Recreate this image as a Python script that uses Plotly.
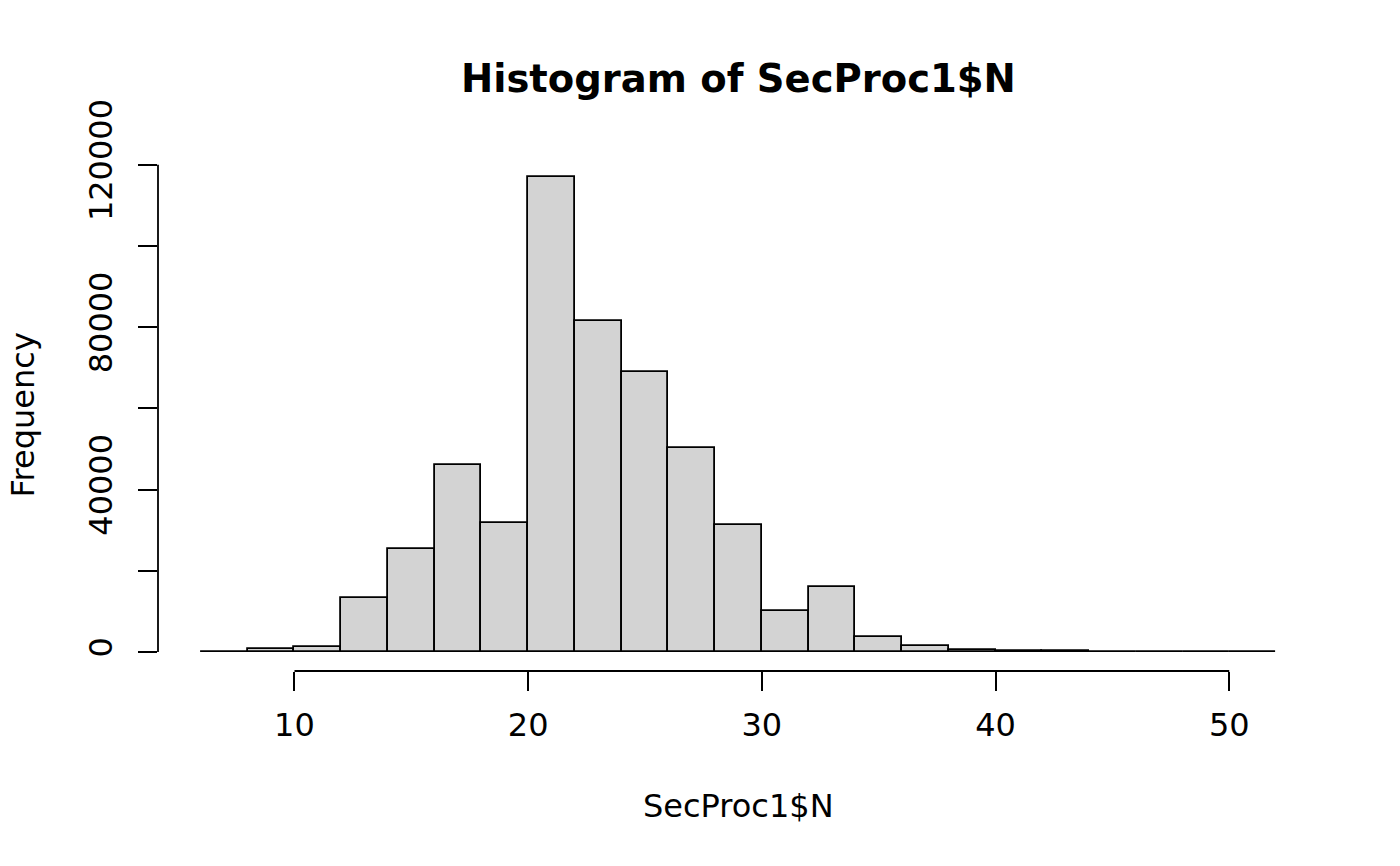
import plotly.graph_objects as go

# Histogram data (bin edges, counts)
bin_edges = [6, 8, 10, 12, 14, 16, 18, 20, 22, 24, 26, 28, 30, 32, 34, 36, 38, 40, 42, 44, 46, 48, 50, 52]
counts = [100, 800, 1200, 13400, 25400, 46100, 31800, 117000, 81600, 69000, 50300, 31300,
          10000, 15900, 3600, 1500, 500, 300, 150, 60, 40, 20, 20]

x_ticks = [10, 20, 30, 40, 50]
y_ticks = [0, 20000, 40000, 60000, 80000, 100000, 120000]
y_tick_text = ["0", "", "40000", "", "80000", "", "120000"]

title_text = "Histogram of SecProc1$N"
x_title = "SecProc1$N"
y_title = "Frequency"

centers = [(a + b) / 2 for a, b in zip(bin_edges[:-1], bin_edges[1:])]
widths = [b - a for a, b in zip(bin_edges[:-1], bin_edges[1:])]

# R-style 4% axis extension
xr = bin_edges[-1] - bin_edges[0]
x_range = [bin_edges[0] - 0.04 * xr, bin_edges[-1] + 0.04 * xr]
ymax = max(counts)
y_range = [-0.04 * ymax, ymax * 1.04]

FONT = "DejaVu Sans"
fs = 32

fig = go.Figure()
fig.add_trace(go.Bar(
    x=centers, y=counts, width=widths,
    marker=dict(color="#D3D3D3", line=dict(color="black", width=1.8)),
    showlegend=False, hoverinfo="x+y",
))

# body has an 8px default margin in the page, compensate in the margins
fig.update_layout(
    width=1400, height=866, autosize=False,
    paper_bgcolor="white", plot_bgcolor="white",
    margin=dict(l=150, r=89, t=150, b=203, pad=0),
    font=dict(family=FONT, size=fs, color="black"),
    bargap=0,
    xaxis=dict(
        range=x_range, tickmode="array", tickvals=x_ticks,
        ticktext=[str(v) for v in x_ticks], automargin=False,
        ticks="outside", ticklen=19, tickwidth=1.8, tickcolor="black",
        showline=False, showgrid=False, zeroline=False,
        tickfont=dict(family=FONT, size=fs, color="black"),
        ticklabelstandoff=7,
    ),
    yaxis=dict(
        range=y_range, tickmode="array", tickvals=y_ticks, ticktext=y_tick_text,
        automargin=False,
        ticks="outside", ticklen=19, tickwidth=1.8, tickcolor="black",
        showline=False, showgrid=False, zeroline=False,
        tickangle=-90,
        tickfont=dict(family=FONT, size=fs, color="black"),
        ticklabelstandoff=13,
    ),
)

# R-style axis lines spanning first to last tick
fig.add_shape(type="line", xref="x", yref="paper", x0=x_ticks[0], x1=x_ticks[-1], y0=0, y1=0,
              line=dict(color="black", width=1.8))
fig.add_shape(type="line", xref="paper", yref="y", x0=0, x1=0, y0=y_ticks[0], y1=y_ticks[-1],
              line=dict(color="black", width=1.8))

# Titles
fig.add_annotation(text="<b>" + title_text + "</b>", xref="paper", yref="paper",
                   x=0.5, y=1.154, xanchor="center", yanchor="middle", showarrow=False,
                   font=dict(family=FONT, size=38.5, color="black"))
fig.add_annotation(text=x_title, xref="paper", yref="paper",
                   x=0.5, y=-0.263, xanchor="center", yanchor="middle", showarrow=False,
                   font=dict(family=FONT, size=fs, color="black"))
fig.add_annotation(text=y_title, xref="paper", yref="paper",
                   x=-0.1163, y=0.50, xanchor="center", yanchor="middle", showarrow=False,
                   textangle=-90, font=dict(family=FONT, size=fs, color="black"))

fig.write_html("out.html")
